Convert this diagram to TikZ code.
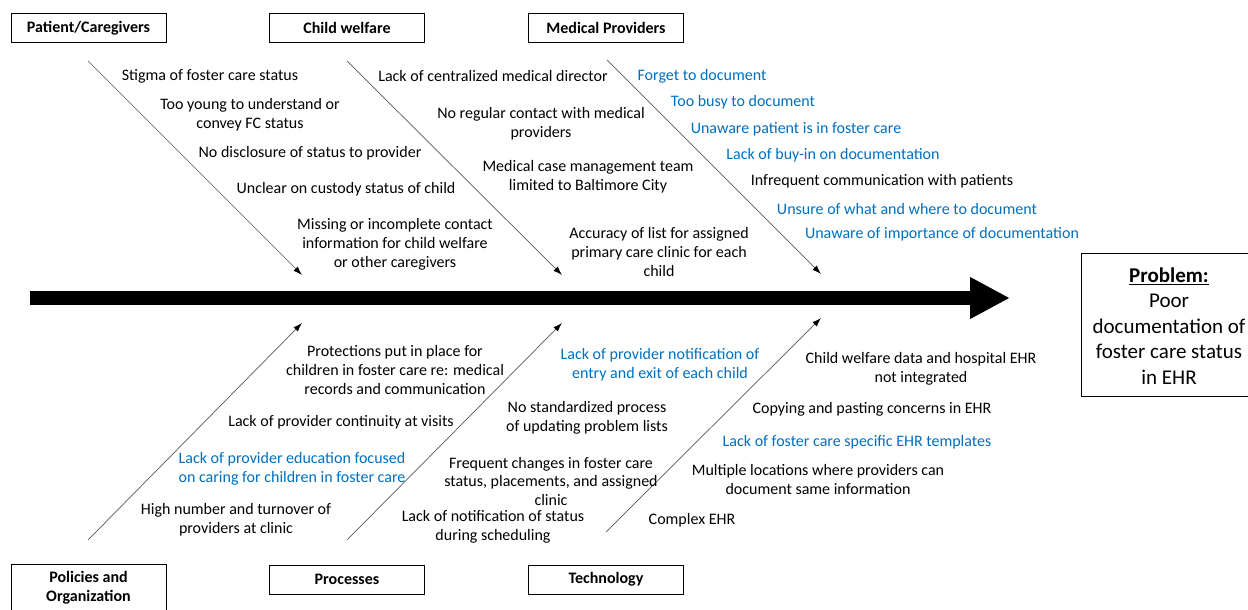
\documentclass[tikz,border=0pt]{standalone}
\usepackage{fontspec}
\setmainfont{Carlito}
\usetikzlibrary{arrows.meta}
\definecolor{fcblue}{HTML}{0070C0}
\begin{document}
\begin{tikzpicture}[x=1pt,y=-1pt,
  catbox/.style={draw=black, line width=0.9pt, minimum width=155pt, minimum height=29pt, font=\fontsize{16}{19}\selectfont\bfseries, align=center, inner sep=0pt},
  cause/.style={font=\fontsize{16}{19}\selectfont, align=center, inner sep=0pt, text=black, yshift=-1.5pt},
  bluecause/.style={cause, text=fcblue},
  bone/.style={draw=black!65, line width=0.7pt, -{Latex[black,length=9pt,width=6pt]}},
  spine/.style={line width=14pt, -{Triangle[length=40pt,width=39pt]}},
]
\useasboundingbox (0,0) rectangle (1248,610);
\clip (0,0) rectangle (1248,610);
\fill[white] (0,0) rectangle (1248,610);

% category boxes
\node[catbox] (pc) at (88.5,28) {Patient/Caregivers};
\node[catbox] (cw) at (347,28) {Child welfare};
\node[catbox] (mp) at (606,28) {Medical Providers};
\node[catbox, minimum height=48pt] (po) at (88.5,588) {Policies and\\Organization};
\node[catbox] (pr) at (347,579.5) {Processes};
\node[catbox] (te) at (606,579.5) {Technology};

% problem box
\node[draw=black, line width=0.9pt, minimum width=180pt, minimum height=143pt, anchor=north west, inner sep=0pt] (pbox) at (1081,253) {};
\node[font=\fontsize{21}{25.5}\selectfont, align=center, inner sep=0pt] (ptext) at (1169,326)
  {\textbf{\underline{Problem:}}\\Poor\\documentation of\\foster care status\\in EHR};

% spine
\coordinate (s0) at (30,298);
\coordinate (s1) at (1010,298);
\draw[spine] (s0) -- (s1);

% bones
\coordinate (b1a) at (88,61);  \coordinate (b1b) at (302,275);
\coordinate (b2a) at (347,61); \coordinate (b2b) at (562,275);
\coordinate (b3a) at (607,60); \coordinate (b3b) at (821,274);
\coordinate (b4a) at (88,540); \coordinate (b4b) at (302,323);
\coordinate (b5a) at (347,540);\coordinate (b5b) at (562,323);
\coordinate (b6a) at (606,532);\coordinate (b6b) at (821,318);
\draw[bone] (b1a) -- (b1b);
\draw[bone] (b2a) -- (b2b);
\draw[bone] (b3a) -- (b3b);
\draw[bone] (b4a) -- (b4b);
\draw[bone] (b5a) -- (b5b);
\draw[bone] (b6a) -- (b6b);

% Patient/Caregivers causes
\node[cause] (p1) at (210,75) {Stigma of foster care status};
\node[cause] (p2) at (250,113.5) {Too young to understand or\\convey FC status};
\node[cause] (p3) at (310,152) {No disclosure of status to provider};
\node[cause] (p4) at (346,188) {Unclear on custody status of child};
\node[cause] (p5) at (395,243) {Missing or incomplete contact\\information for child welfare\\or other caregivers};

% Child welfare causes
\node[cause] (c1) at (493,75) {Lack of centralized medical director};
\node[cause] (c2) at (541,122.5) {No regular contact with medical\\providers};
\node[cause] (c3) at (588,175.5) {Medical case management team\\limited to Baltimore City};
\node[cause] (c4) at (659,250) {Accuracy of list for assigned\\primary care clinic for each\\child};

% Medical Providers causes
\node[bluecause] (m1) at (702,75) {Forget to document};
\node[bluecause] (m2) at (743,101) {Too busy to document};
\node[bluecause] (m3) at (796,128) {Unaware patient is in foster care};
\node[bluecause] (m4) at (833,154) {Lack of buy-in on documentation};
\node[cause] (m5) at (882,180) {Infrequent communication with patients};
\node[bluecause] (m6) at (907,208) {Unsure of what and where to document};
\node[bluecause] (m7) at (942,233) {Unaware of importance of documentation};

% Policies and Organization causes
\node[cause] (o1) at (395,369) {Protections put in place for\\children in foster care re: medical\\records and communication};
\node[cause] (o2) at (341,421) {Lack of provider continuity at visits};
\node[bluecause] (o3) at (292,467.5) {Lack of provider education focused\\on caring for children in foster care};
\node[cause] (o4) at (236,518.5) {High number and turnover of\\providers at clinic};

% Processes causes
\node[bluecause] (r1) at (660,363.5) {Lack of provider notification of\\entry and exit of each child};
\node[cause] (r2) at (587,416.5) {No standardized process\\of updating problem lists};
\node[cause, font=\fontsize{16}{18.5}\selectfont] (r3) at (551,479.5) {Frequent changes in foster care\\status, placements, and assigned\\clinic};
\node[cause] (r4) at (493,525) {Lack of notification of status\\during scheduling};

% Technology causes
\node[cause] (t1) at (921,367.5) {Child welfare data and hospital EHR\\not integrated};
\node[cause] (t2) at (872,408) {Copying and pasting concerns in EHR};
\node[bluecause] (t3) at (857,441) {Lack of foster care specific EHR templates};
\node[cause] (t4) at (818,477.5) {Multiple locations where providers can\\document same information};
\node[cause] (t5) at (692,519) {Complex EHR};
\end{tikzpicture}
\end{document}
